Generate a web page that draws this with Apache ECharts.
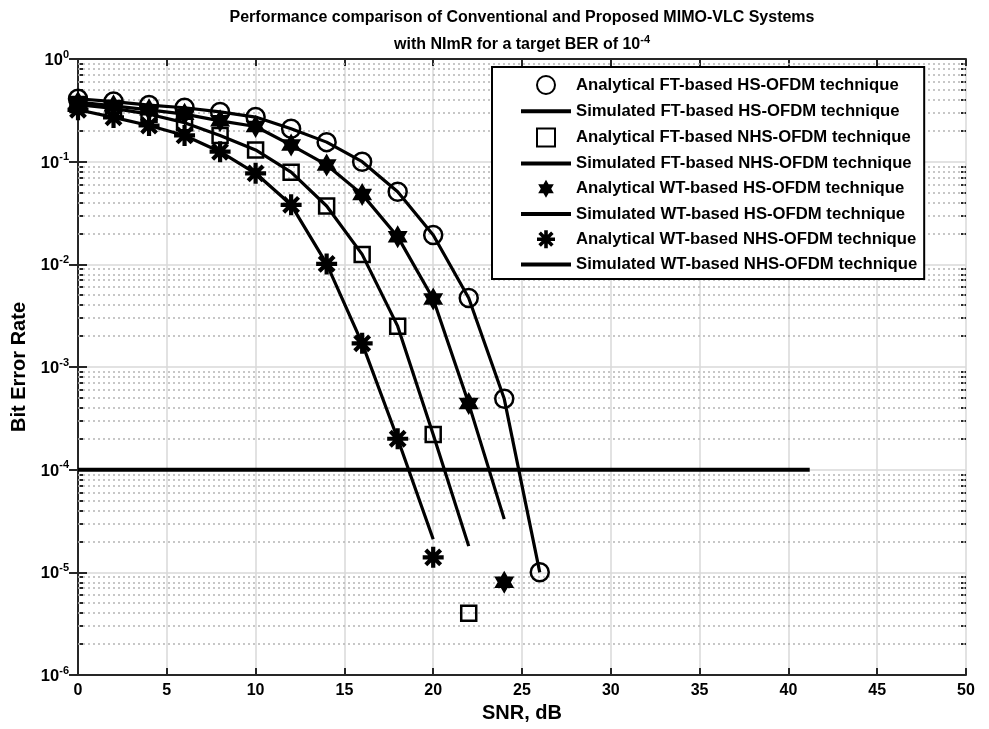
<!DOCTYPE html>
<html>
<head>
<meta charset="utf-8">
<script src="https://cdn.jsdelivr.net/npm/echarts@6/dist/echarts.min.js"></script>
<style>html,body{margin:0;padding:0;background:#fff}#chart{width:989px;height:729px}</style>
</head>
<body>
<div id="chart"></div>
<script>
// SNR steps (dB)
var snrFtHs = [0, 2, 4, 6, 8, 10, 12, 14, 16, 18, 20, 22, 24, 26];
var snrWtHs = [0, 2, 4, 6, 8, 10, 12, 14, 16, 18, 20, 22, 24];
var snrFtNhs = [0, 2, 4, 6, 8, 10, 12, 14, 16, 18, 20, 22];
var snrWtNhs = [0, 2, 4, 6, 8, 10, 12, 14, 16, 18, 20];

// BER
var ftHsAna = [0.41, 0.385, 0.356, 0.335, 0.305, 0.272, 0.209, 0.155, 0.100, 0.051, 0.0193, 0.0047, 4.9e-4, 1.0e-5];
var ftHsSim = [0.41, 0.385, 0.356, 0.335, 0.305, 0.272, 0.209, 0.155, 0.100, 0.051, 0.0193, 0.0047, 4.9e-4, 1.0e-5];
var ftNhsAna = [0.36, 0.33, 0.29, 0.24, 0.18, 0.13, 0.079, 0.037, 0.0125, 0.0025, 2.2e-4, 4.0e-6];
var ftNhsSim = [0.36, 0.33, 0.29, 0.24, 0.18, 0.13, 0.079, 0.037, 0.0125, 0.0025, 2.2e-4, 1.8e-5];
var wtHsAna = [0.38, 0.35, 0.32, 0.29, 0.25, 0.22, 0.145, 0.093, 0.048, 0.0186, 0.0046, 4.4e-4, 8.0e-6];
var wtHsSim = [0.38, 0.35, 0.32, 0.29, 0.25, 0.22, 0.145, 0.093, 0.048, 0.0186, 0.0046, 4.4e-4, 3.3e-5];
var wtNhsAna = [0.32, 0.27, 0.225, 0.18, 0.125, 0.077, 0.038, 0.0101, 0.0017, 2.0e-4, 1.4e-5];
var wtNhsSim = [0.32, 0.27, 0.225, 0.18, 0.125, 0.077, 0.038, 0.0101, 0.0017, 2.0e-4, 2.1e-5];

// target BER line
var targetSnr = [0, 41.2];
var targetBer = [1e-4, 1e-4];

var seriesNames = [
    'Analytical FT-based HS-OFDM technique',
    'Simulated FT-based HS-OFDM technique',
    'Analytical FT-based NHS-OFDM technique',
    'Simulated FT-based NHS-OFDM technique',
    'Analytical WT-based HS-OFDM technique',
    'Simulated WT-based HS-OFDM technique',
    'Analytical WT-based NHS-OFDM technique',
    'Simulated WT-based NHS-OFDM technique'
];

var FONT = '"Liberation Sans", Arial, Helvetica, sans-serif';
var HEXAGRAM = 'path://M10 0 L12.887 5 L18.66 5 L15.77 10 L18.66 15 L12.887 15 L10 20 L7.113 15 L1.34 15 L4.23 10 L1.34 5 L7.113 5 Z';
var ASTERISK = 'path://M0 8 L20 8 L20 12 L0 12 Z M8 0 L12 0 L12 20 L8 20 Z ' +
    'M4.343 1.515 L18.485 15.657 L15.657 18.485 L1.515 4.343 Z M15.657 1.515 L18.485 4.343 L4.343 18.485 L1.515 15.657 Z';
var SQUARE = 'path://M0 0 L10 0 L10 10 L0 10 Z';
var LINE_ICON = 'path://M0 0 L50 0 L50 4 L0 4 Z';

function pairs(xs, ys) {
    return xs.map(function (x, i) { return [x, ys[i]]; });
}

// minor log grid positions 2..9 x 10^k
var minorVals = [];
for (var e = -6; e < 0; e++) {
    for (var m = 2; m <= 9; m++) minorVals.push(m * Math.pow(10, e));
}

function lineSeries(name, xs, ys) {
    return {
        name: name, type: 'line', data: pairs(xs, ys),
        symbol: 'none', smooth: false, z: 3,
        lineStyle: { color: '#000', width: 3.2 },
        itemStyle: { color: '#000' }
    };
}
function markerSeries(name, xs, ys, symbol, size, open) {
    return {
        name: name, type: 'scatter', data: pairs(xs, ys),
        symbol: symbol, symbolSize: size, symbolKeepAspect: true, z: 4,
        itemStyle: open
            ? { color: 'rgba(0,0,0,0)', borderColor: '#000', borderWidth: 2.5, opacity: 1 }
            : { color: '#000', borderWidth: 0, opacity: 1 }
    };
}

var chart = echarts.init(document.getElementById('chart'));

var supRich = {
    b: { fontFamily: FONT, fontWeight: 'bold', fontSize: 16.5, color: '#000', verticalAlign: 'bottom' },
    s: { fontFamily: FONT, fontWeight: 'bold', fontSize: 11, color: '#000', verticalAlign: 'bottom', padding: [0, 0, 9, 0] }
};

var legendIcons = ['circle', LINE_ICON, SQUARE, LINE_ICON, HEXAGRAM, LINE_ICON, ASTERISK, LINE_ICON];

var option = {
    animation: false,
    backgroundColor: '#fff',
    title: {
        text: 'Performance comparison of Conventional and Proposed MIMO-VLC Systems\nwith NImR for a target BER of 10{s|-4}',
        left: 522, top: 4, textAlign: 'center', padding: 0,
        textStyle: {
            fontFamily: FONT, fontWeight: 'bold', fontSize: 16, color: '#000', lineHeight: 27,
            rich: {
                s: { fontFamily: FONT, fontWeight: 'bold', fontSize: 11, lineHeight: 12, color: '#000', verticalAlign: 'bottom', padding: [0, 0, 13, 0] }
            }
        }
    },
    grid: { left: 78, right: 23, top: 59, bottom: 54, containLabel: false },
    legend: {
        orient: 'vertical', left: 492, top: 67,
        itemWidth: 50, itemHeight: 18, itemGap: 7.7,
        padding: [8, 7, 6, 29],
        symbolKeepAspect: true,
        borderColor: '#000', borderWidth: 2, backgroundColor: '#fff',
        selectedMode: false,
        textStyle: { fontFamily: FONT, fontWeight: 'bold', fontSize: 16.7, color: '#000' },
        data: seriesNames.map(function (n, i) { return { name: n, icon: legendIcons[i] }; })
    },
    xAxis: [{
        type: 'value', min: 0, max: 50, interval: 5, position: 'bottom',
        name: 'SNR, dB', nameLocation: 'middle', nameGap: 27,
        nameTextStyle: { fontFamily: FONT, fontWeight: 'bold', fontSize: 20, color: '#000' },
        axisLine: { lineStyle: { color: '#262626', width: 2 } },
        axisTick: { inside: true, length: 7, lineStyle: { color: '#262626', width: 2 } },
        axisLabel: { fontFamily: FONT, fontWeight: 'bold', fontSize: 16, color: '#000', margin: 8 },
        splitLine: { show: true, lineStyle: { color: '#d9d9d9', width: 1.5 } }
    }, {
        type: 'value', min: 0, max: 50, interval: 5, position: 'top',
        axisLine: { lineStyle: { color: '#262626', width: 2 } },
        axisTick: { inside: true, length: 7, lineStyle: { color: '#262626', width: 2 } },
        axisLabel: { show: false }, splitLine: { show: false }
    }],
    yAxis: [{
        type: 'log', logBase: 10, min: 1e-6, max: 1, splitNumber: 6, position: 'left',
        name: 'Bit Error Rate', nameLocation: 'middle', nameGap: 47, nameRotate: 90,
        nameTextStyle: { fontFamily: FONT, fontWeight: 'bold', fontSize: 20, color: '#000' },
        axisLine: { lineStyle: { color: '#262626', width: 2 } },
        axisTick: { inside: true, length: 9, lineStyle: { color: '#262626', width: 2 } },
        axisLabel: {
            margin: 9,
            formatter: function (v) {
                var p = Math.round(Math.log10(v));
                return '{b|10}{s|' + p + '}';
            },
            rich: supRich
        },
        splitLine: { show: true, lineStyle: { color: '#d9d9d9', width: 1.5 } }
    }, {
        type: 'log', logBase: 10, min: 1e-6, max: 1, splitNumber: 6, position: 'right',
        axisLine: { lineStyle: { color: '#262626', width: 2 } },
        axisTick: { inside: true, length: 9, lineStyle: { color: '#262626', width: 2 } },
        axisLabel: { show: false }, splitLine: { show: false }
    }, {
        type: 'log', logBase: 10, min: 1e-6, max: 1, position: 'left',
        axisLine: { show: false },
        axisTick: { inside: true, length: 5, customValues: minorVals, lineStyle: { color: '#262626', width: 2 } },
        axisLabel: { show: false }, splitLine: { show: false }
    }, {
        type: 'log', logBase: 10, min: 1e-6, max: 1, position: 'right',
        axisLine: { show: false },
        axisTick: { inside: true, length: 5, customValues: minorVals, lineStyle: { color: '#262626', width: 2 } },
        axisLabel: { show: false }, splitLine: { show: false }
    }],
    series: [
        {
            // dotted minor grid at 2..9 x 10^k
            type: 'lines', coordinateSystem: 'cartesian2d', silent: true, z: 1,
            polyline: false,
            lineStyle: { color: '#b5b5b5', width: 1.5, type: [2, 3], opacity: 1 },
            data: minorVals.map(function (v) { return { coords: [[0, v], [50, v]] }; })
        },
        {
            name: 'target', type: 'line', data: pairs(targetSnr, targetBer),
            symbol: 'none', z: 2,
            lineStyle: { color: '#000', width: 4 }
        },
        lineSeries(seriesNames[1], snrFtHs, ftHsSim),
        lineSeries(seriesNames[3], snrFtNhs, ftNhsSim),
        lineSeries(seriesNames[5], snrWtHs, wtHsSim),
        lineSeries(seriesNames[7], snrWtNhs, wtNhsSim),
        markerSeries(seriesNames[0], snrFtHs, ftHsAna, 'circle', 18, true),
        markerSeries(seriesNames[2], snrFtNhs, ftNhsAna, 'rect', 15, true),
        markerSeries(seriesNames[4], snrWtHs, wtHsAna, HEXAGRAM, 23, false),
        markerSeries(seriesNames[6], snrWtNhs, wtNhsAna, ASTERISK, 21, false)
    ]
};

chart.setOption(option);
</script>
</body>
</html>
